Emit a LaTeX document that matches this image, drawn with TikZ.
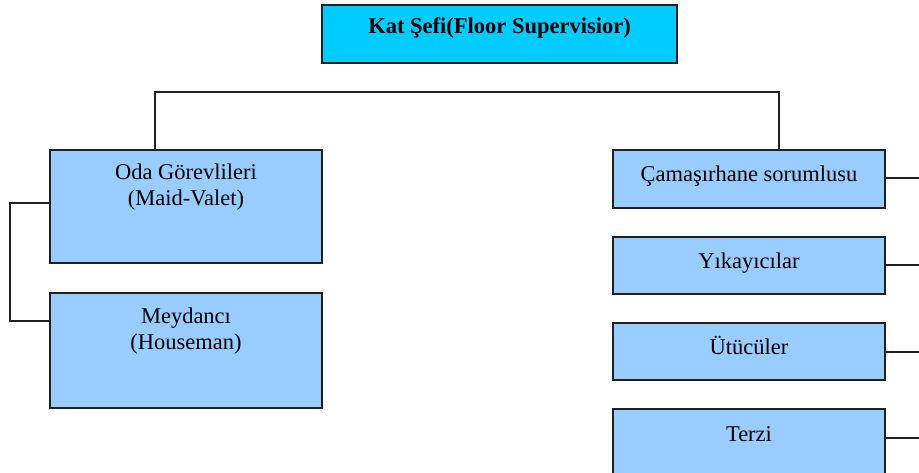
\documentclass[tikz,border=0pt]{standalone}
\usepackage{fontspec}
\setmainfont{Liberation Serif}
\definecolor{boxblue}{HTML}{99CCFF}
\definecolor{headcyan}{HTML}{00CCFF}
\definecolor{edge}{HTML}{202020}
\begin{document}
\begin{tikzpicture}[x=1pt,y=-1pt,
  box/.style={draw=edge, line width=1.3pt, fill=boxblue, minimum width=272pt, inner sep=0pt},
  head/.style={box, fill=headcyan, minimum width=355pt, minimum height=58pt},
  lbl/.style={font=\fontsize{22.5}{26}\selectfont, align=center, inner sep=0pt, anchor=base},
  link/.style={line width=1.3pt, draw=edge}]
\useasboundingbox (0,0) rectangle (919,472);

% head of department
\node[head] (chief) at (499.5,34) {};
\node[lbl, font=\fontsize{22.5}{26}\selectfont\bfseries] (chiefT) at (499.5,33) {Kat Şefi(Floor Supervisior)};

% room staff branch (two-line labels sit on the baseline of their last line)
\node[box, minimum height=113pt] (oda) at (186,206.5) {};
\node[lbl] (odaT) at (186,205) {Oda Görevlileri\\(Maid-Valet)};
\node[box, minimum height=115pt] (meyd) at (186,350.5) {};
\node[lbl] (meydT) at (186,349) {Meydancı\\(Houseman)};

% laundry branch
\node[box, minimum height=58pt] (cam) at (749,179) {};
\node[lbl] (camT) at (749,181) {Çamaşırhane sorumlusu};
\node[box, minimum height=57pt] (yik) at (749,265.5) {};
\node[lbl] (yikT) at (749,268) {Yıkayıcılar};
\node[box, minimum height=57pt] (utu) at (749,351.5) {};
\node[lbl] (utuT) at (749,354) {Ütücüler};
\node[box, minimum height=70pt] (terzi) at (749,444) {};
\node[lbl] (terziT) at (749,441) {Terzi};

% connectors
\coordinate (busL) at (155,92);
\coordinate (busR) at (779,92);
\draw[link] (oda.north -| busL) -- (busL) -- (busR) -- (cam.north -| busR);

\coordinate (brkTop) at (10,203);
\coordinate (brkBot) at (10,321);
\draw[link] (oda.west |- brkTop) -- (brkTop) -- (brkBot) -- (meyd.west |- brkBot);

\coordinate (rim) at (925,0);
\draw[link] (cam.east |- 0,178) -- (rim |- 0,178);
\draw[link] (yik.east |- 0,265) -- (rim |- 0,265);
\draw[link] (utu.east |- 0,352) -- (rim |- 0,352);
\draw[link] (terzi.east |- 0,438) -- (rim |- 0,438);
\end{tikzpicture}
\end{document}
